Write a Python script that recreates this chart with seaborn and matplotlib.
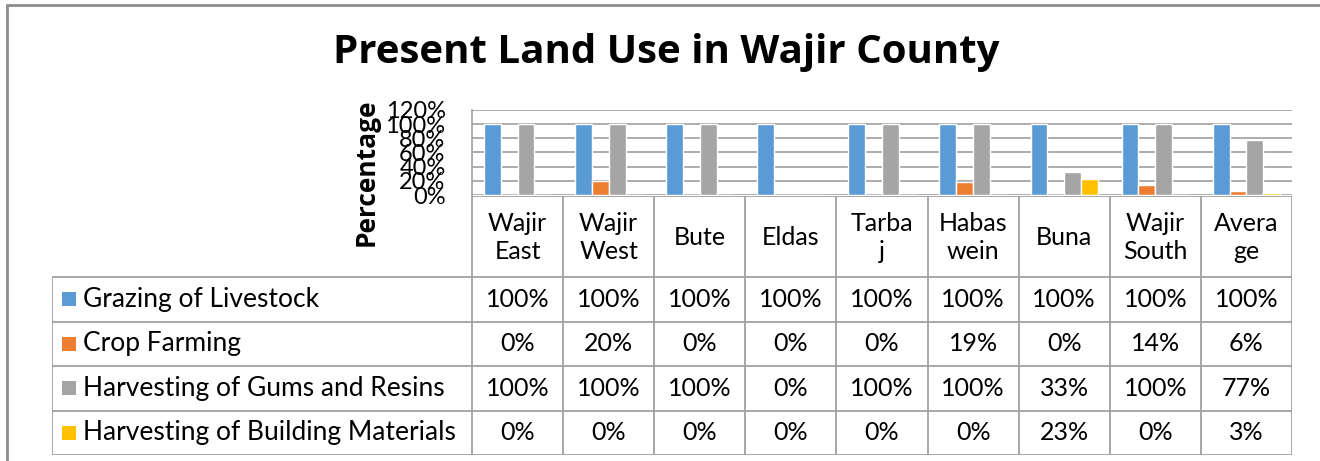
import matplotlib
matplotlib.use("Agg")
import matplotlib.pyplot as plt
from matplotlib.lines import Line2D
from matplotlib.patches import Rectangle
import pandas as pd
import seaborn as sns

# -----------------------------
# Data
# -----------------------------
districts = ["Wajir East", "Wajir West", "Bute", "Eldas", "Tarbaj",
             "Habaswein", "Buna", "Wajir South", "Average"]
header_labels = ["Wajir\nEast", "Wajir\nWest", "Bute", "Eldas", "Tarba\nj",
                 "Habas\nwein", "Buna", "Wajir\nSouth", "Avera\nge"]
uses = ["Grazing of Livestock", "Crop Farming",
        "Harvesting of Gums and Resins", "Harvesting of Building Materials"]

grazing = [100, 100, 100, 100, 100, 100, 100, 100, 100]
crop = [0, 20, 0, 0, 0, 19, 0, 14, 6]
gums = [100, 100, 100, 0, 100, 100, 33, 100, 77]
building = [0, 0, 0, 0, 0, 0, 23, 0, 3]

colors = ["#5B9BD5", "#ED7D31", "#A5A5A5", "#FFC000"]
yticks = [0, 20, 40, 60, 80, 100, 120]

series = [grazing, crop, gums, building]
df = pd.DataFrame(
    [(d, u, v) for u, vals in zip(uses, series) for d, v in zip(districts, vals)],
    columns=["district", "use", "value"],
)

sns.set_style("white")
plt.rcParams["font.family"] = ["Lato", "DejaVu Sans"]
plt.rcParams["text.color"] = "black"
plt.rcParams["axes.labelcolor"] = "black"
plt.rcParams["ytick.color"] = "black"

W, H = 1320, 461
fig = plt.figure(figsize=(W / 100, H / 100), dpi=100)


def fx(px):
    return px / W


def fy(py):
    return 1 - py / H


# -----------------------------
# Bar chart
# -----------------------------
plot_l, plot_r, plot_t, plot_b = 472, 1292, 110, 195
ax = fig.add_axes([fx(plot_l), fy(plot_b), (plot_r - plot_l) / W, (plot_b - plot_t) / H])
sns.barplot(data=df, x="district", y="value", hue="use", order=districts,
            hue_order=uses, palette=colors, saturation=1, width=0.74,
            errorbar=None, legend=False, ax=ax)

ax.set_xlim(-0.5, len(districts) - 0.5)
ax.set_ylim(0, 120)
ax.set_yticks(yticks)
ax.set_yticklabels([f"{v}%" for v in yticks])
ax.tick_params(axis="y", length=0, labelsize=17, pad=19)
ax.set_xticks([])
ax.set_xlabel("")
ax.yaxis.grid(True, color="#A6A6A6", lw=1.3)
ax.set_axisbelow(True)
for s in ["top", "right", "bottom"]:
    ax.spines[s].set_visible(False)
ax.spines["left"].set_color("#A6A6A6")
ax.spines["left"].set_linewidth(1.3)
# Percentage label sits left of the (overlapping) tick labels, as in the source
ax.set_ylabel("Percentage", fontsize=19, fontweight="bold", family=["Open Sans", "DejaVu Sans"])
ax.yaxis.set_label_coords(-0.113, 0.27)

# -----------------------------
# Data table below
# -----------------------------
tab_l, tab_t, tab_b = 52, 196, 455
unit_px = (plot_r - plot_l) / len(districts)
left_edge = -0.5 - (plot_l - tab_l) / unit_px
right_edge = len(districts) - 0.5
tax = fig.add_axes([fx(tab_l), fy(tab_b), (plot_r - tab_l) / W, (tab_b - tab_t) / H])
tax.set_xlim(left_edge, right_edge)
tax.set_ylim(tab_b - tab_t, 0)
tax.axis("off")

header_h = 81
row_h = (tab_b - tab_t - header_h) / len(uses)
rows_y = [0, header_h] + [header_h + row_h * (k + 1) for k in range(len(uses))]
line_kw = dict(color="#A0A0A0", lw=1.3, solid_capstyle="butt")

tax.plot([-0.5, right_edge], [0, 0], **line_kw)
for y in rows_y[1:]:
    tax.plot([left_edge, right_edge], [y, y], **line_kw)
for i in range(len(districts) + 1):
    x = -0.5 + i
    tax.plot([x, x], [0, rows_y[-1]], **line_kw)
tax.plot([left_edge, left_edge], [header_h, rows_y[-1]], **line_kw)

for i, lab in enumerate(header_labels):
    tax.text(i, header_h / 2 + 1, lab, ha="center", va="center", fontsize=18,
             linespacing=1.3)

for r, (use, vals, col) in enumerate(zip(uses, series, colors)):
    yc = rows_y[r + 1] + row_h / 2
    tax.add_patch(Rectangle((left_edge + 10 / unit_px, yc - 7), 14 / unit_px, 14,
                            color=col, lw=0))
    tax.text(left_edge + 31 / unit_px, yc, use, ha="left", va="center", fontsize=19)
    for i, v in enumerate(vals):
        tax.text(i, yc, f"{v}%", ha="center", va="center", fontsize=18)

# -----------------------------
# Title and outer frame
# -----------------------------
fig.text(fx(666), fy(52), "Present Land Use in Wajir County", ha="center", va="center",
         fontsize=29, fontweight="bold", family=["Open Sans", "DejaVu Sans"])

frame_kw = dict(color="#8C8C8C", lw=2, transform=fig.transFigure)
fig.add_artist(Line2D([fx(7), fx(7)], [fy(5), 0], **frame_kw))
fig.add_artist(Line2D([fx(7), 1], [fy(5), fy(5)], **frame_kw))

fig.savefig("out.png", dpi=100)
